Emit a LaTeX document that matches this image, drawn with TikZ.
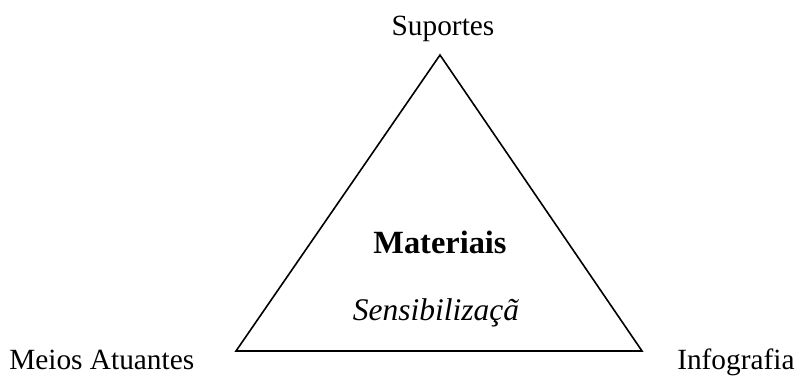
\documentclass[tikz,border=0pt]{standalone}
\usepackage{fontspec}
\setmainfont{Liberation Serif}
\usepackage{tikz}

\begin{document}
\begin{tikzpicture}[x=0.75pt,y=-0.75pt,
    lbl/.style={inner sep=0pt, font=\fontsize{22}{26}\selectfont},
    mid/.style={inner sep=0pt, anchor=base}]
\useasboundingbox (0,0) rectangle (795,376);
\coordinate (top) at (440,55);
\coordinate (left) at (236,351);
\coordinate (right) at (642,351);
\draw[line width=1.2pt, line join=miter] (top)--(left)--(right)--cycle;

\node[lbl, anchor=base] (sup) at (443,35) {Suportes};
\node[lbl, anchor=base west] (meios) at (9,369) {Meios Atuantes};
\node[lbl, anchor=base west] (info) at (677,369) {Infografia};
\node[mid, font=\fontsize{24.3}{28}\selectfont\bfseries] (mat) at (440,253) {Materiais};
\node[mid, font=\fontsize{23.6}{28}\selectfont\itshape] (sens) at (436,320) {Sensibilizaçã};
\end{tikzpicture}
\end{document}
